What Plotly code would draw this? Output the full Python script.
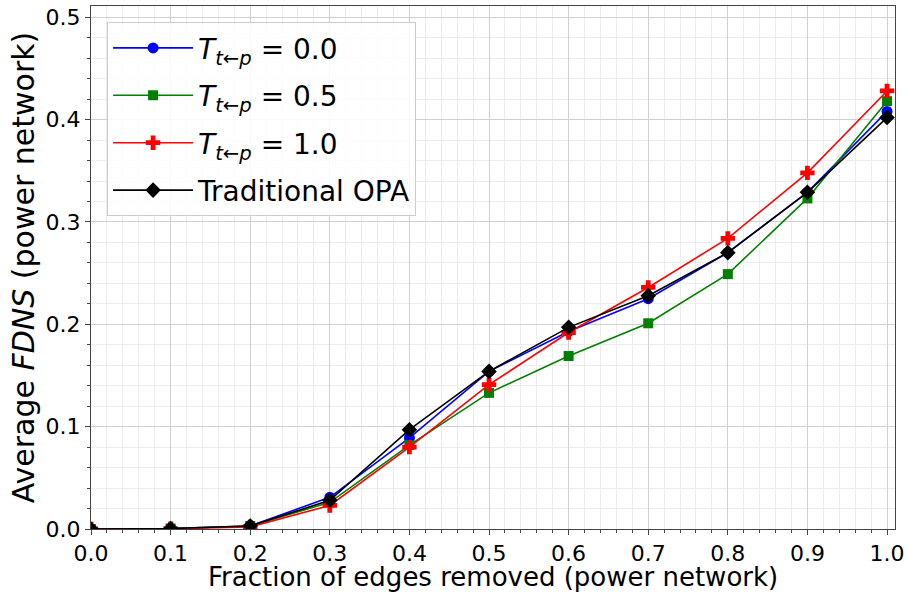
import plotly.graph_objects as go

x_vals = [0.0, 0.1, 0.2, 0.3, 0.4, 0.5, 0.6, 0.7, 0.8, 0.9, 1.0]
t00 = [0.0, 0.0005, 0.003, 0.031, 0.089, 0.154, 0.193, 0.225, 0.270, 0.329, 0.408]
t05 = [0.0, 0.0005, 0.003, 0.026, 0.082, 0.133, 0.169, 0.201, 0.249, 0.323, 0.418]
t10 = [0.0, 0.0003, 0.002, 0.023, 0.080, 0.141, 0.192, 0.236, 0.284, 0.348, 0.428]
opa = [0.0, 0.0005, 0.003, 0.028, 0.097, 0.154, 0.197, 0.228, 0.270, 0.329, 0.402]

x_title = "Fraction of edges removed (power network)"
y_title = "Average <i>FDNS</i> (power network)"

series = [
    ("<i>T</i><sub><i>t←p</i></sub> = 0.0", t00, "blue", "circle", 11),
    ("<i>T</i><sub><i>t←p</i></sub> = 0.5", t05, "green", "square", 10),
    ("<i>T</i><sub><i>t←p</i></sub> = 1.0", t10, "red", "cross", 12),
    ("Traditional OPA", opa, "black", "diamond", 12),
]

fig = go.Figure()
for i, (name, ys, col, sym, sz) in enumerate(series):
    fig.add_trace(go.Scatter(
        x=x_vals, y=ys, name=name, mode="lines+markers",
        line=dict(color=col, width=1.6),
        marker=dict(color=col, symbol=sym, size=sz, line=dict(width=0)),
        legendgroup=f"g{i}",
    ))

font = "DejaVu Sans, Arial, sans-serif"
fig.update_layout(
    width=907, height=594,
    margin=dict(l=91, r=12, t=6, b=65),
    paper_bgcolor="white", plot_bgcolor="white",
    font=dict(family=font, color="black", size=22),
    showlegend=True,
    legend=dict(
        x=0.02, y=0.969, xanchor="left", yanchor="top",
        bgcolor="rgba(255,255,255,0.85)", bordercolor="#cccccc", borderwidth=1,
        font=dict(size=28, family=font, color="black"),
        tracegroupgap=8, itemwidth=80,
    ),
    xaxis=dict(
        range=[0, 1.01], dtick=0.1, tick0=0, tickformat=".1f",
        showline=True, linecolor="#444", linewidth=1, mirror=True,
        ticks="outside", ticklen=5, tickcolor="#444",
        showgrid=True, gridcolor="#d0d0d0", gridwidth=1,
        zeroline=False, automargin=False,
        minor=dict(dtick=0.02, showgrid=True, gridcolor="#ececec", ticks="outside", ticklen=3, tickcolor="#444"),
        tickfont=dict(size=22),
    ),
    yaxis=dict(
        range=[0, 0.511], dtick=0.1, tick0=0, tickformat=".1f",
        showline=True, linecolor="#444", linewidth=1, mirror=True,
        ticks="outside", ticklen=5, tickcolor="#444",
        showgrid=True, gridcolor="#d0d0d0", gridwidth=1,
        zeroline=False, automargin=False,
        minor=dict(dtick=0.02, showgrid=True, gridcolor="#ececec", ticks="outside", ticklen=3, tickcolor="#444"),
        title=dict(text=y_title, font=dict(size=30), standoff=2),
        tickfont=dict(size=22),
    ),
    annotations=[dict(
        text=x_title, xref="paper", yref="paper", x=0.5, y=-0.123,
        xanchor="center", yanchor="bottom", showarrow=False,
        font=dict(size=26, family=font, color="black"), borderpad=0,
    )],
)

fig.write_html("out.html", config={"displayModeBar": False},
               post_script="document.body.style.margin='0';")
